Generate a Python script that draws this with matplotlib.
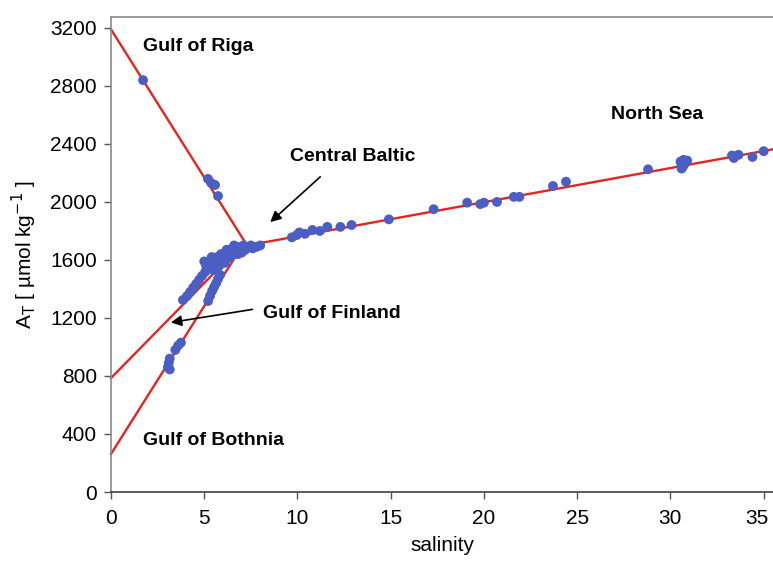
import matplotlib
matplotlib.use("Agg")
import matplotlib.pyplot as plt
from matplotlib.transforms import ScaledTranslation

plt.rcParams['font.family'] = ['Liberation Sans', 'DejaVu Sans']

# mixing lines (salinity, AT) end points
riga_line_x = [0, 7.3]
riga_line_y = [3190, 1700]
north_line_x = [7.3, 35.5]
north_line_y = [1700, 2363]
finland_line_x = [0, 7.0]
finland_line_y = [786, 1703]
bothnia_line_x = [0, 7.1]
bothnia_line_y = [262, 1710]

# measurements
riga_sal = [1.72, 5.2, 5.37, 5.58, 5.74]
riga_at = [2840, 2159, 2131, 2117, 2041]

north_sal = [9.7, 9.96, 10.1, 10.4, 10.8, 11.2, 11.6, 12.3, 12.9, 14.9, 17.3,
             19.1, 19.8, 20.0, 20.7, 21.6, 21.9, 23.7, 24.4, 28.8, 30.54,
             30.6, 30.7, 30.8, 30.6, 30.9, 30.7, 33.3, 33.4, 33.65, 34.4, 35.0]
north_at = [1756, 1772, 1790, 1780, 1807, 1800, 1828, 1828, 1841, 1880, 1950,
            1995, 1985, 1995, 2000, 2035, 2035, 2110, 2140, 2225, 2278,
            2260, 2290, 2270, 2230, 2285, 2250, 2320, 2303, 2325, 2310, 2350]

finland_sal = [3.86, 4.08, 4.24, 4.40, 4.56, 4.72, 4.88, 5.05, 5.15]
finland_at = [1324, 1352, 1379, 1407, 1434, 1462, 1490, 1517, 1545]

bothnia_sal = [5.21, 5.31, 5.42, 5.53, 5.64, 5.74, 5.85,
               3.75, 3.6, 3.45, 3.15, 3.1, 3.05, 3.15]
bothnia_at = [1317, 1352, 1386, 1414, 1441, 1469, 1497,
              1030, 1010, 980, 920, 890, 860, 845]

central_sal = [5.1, 5.2, 5.3, 5.4, 5.5, 5.5, 5.6, 5.7, 5.8, 5.8, 5.9, 6.0, 6.0,
               6.1, 6.2, 6.2, 6.3, 6.4, 6.4, 6.5, 6.6, 6.7, 6.8, 6.9, 7.0, 7.1,
               7.2, 7.3, 7.5, 7.6, 7.8, 8.0, 7.0, 6.6, 6.8, 5.0, 5.4, 6.1]
central_at = [1560, 1540, 1580, 1560, 1600, 1530, 1580, 1620, 1560, 1600, 1640,
              1590, 1620, 1650, 1610, 1670, 1640, 1660, 1620, 1680, 1650, 1670,
              1690, 1660, 1680, 1700, 1670, 1690, 1700, 1680, 1690, 1700, 1650,
              1700, 1640, 1590, 1620, 1580]

x_ticks = [0, 5, 10, 15, 20, 25, 30, 35]
y_ticks = [0, 400, 800, 1200, 1600, 2000, 2400, 2800, 3200]

red = '#e5241d'
blue = '#4a5ec4'

fig = plt.figure(figsize=(7.73, 5.68), dpi=100)
ax = fig.add_axes([0.1436, 0.1338, 0.8564, 0.8362])

for lx, ly in [(riga_line_x, riga_line_y), (north_line_x, north_line_y),
               (finland_line_x, finland_line_y), (bothnia_line_x, bothnia_line_y)]:
    ax.plot(lx, ly, color=red, lw=1.7, zorder=2, clip_on=False)

for sx, sy in [(riga_sal, riga_at), (north_sal, north_at), (finland_sal, finland_at),
               (bothnia_sal, bothnia_at), (central_sal, central_at)]:
    ax.scatter(sx, sy, s=50, color=blue, edgecolors='none', zorder=3, clip_on=False)

ax.set_xlim(0, 35.5)
ax.set_ylim(0, 3275)
ax.set_xticks(x_ticks)
ax.set_yticks(y_ticks)
ax.tick_params(axis='both', labelsize=15, length=5, width=1, color='#555555', direction='out')
ax.tick_params(axis='x', pad=7)
ax.tick_params(axis='y', pad=5)

# last x label sits at the figure edge; nudge it left a little
last = ax.get_xticklabels()[-1]
last.set_transform(last.get_transform() + ScaledTranslation(-5 / 72, 0, fig.dpi_scale_trans))

ax.spines['right'].set_visible(False)
for s in ['left', 'top']:
    ax.spines[s].set_color('#8a8a8a')
    ax.spines[s].set_linewidth(1.2)
ax.spines['bottom'].set_color('#404040')
ax.spines['bottom'].set_linewidth(1.2)

ax.set_xlabel('salinity', fontsize=15, labelpad=6)
ax.set_ylabel(r'A$_{\mathrm{T}}$ [ µmol kg$^{-1}$ ]', fontsize=15, labelpad=8)

lab = dict(fontsize=14, fontweight='bold', va='center')
ax.text(1.72, 3069, 'Gulf of Riga', **lab)
ax.text(26.8, 2600, 'North Sea', **lab)
ax.text(9.6, 2310, 'Central Baltic', **lab)
ax.text(8.16, 1228, 'Gulf of Finland', **lab)
ax.text(1.72, 352, 'Gulf of Bothnia', **lab)

arrow = dict(arrowstyle='-|>', color='black', lw=1.2, mutation_scale=16)
ax.annotate('', xy=(8.43, 1848), xytext=(11.33, 2186), arrowprops=arrow)
ax.annotate('', xy=(3.06, 1166), xytext=(7.73, 1262), arrowprops=arrow)

fig.savefig('out.png', dpi=100)
